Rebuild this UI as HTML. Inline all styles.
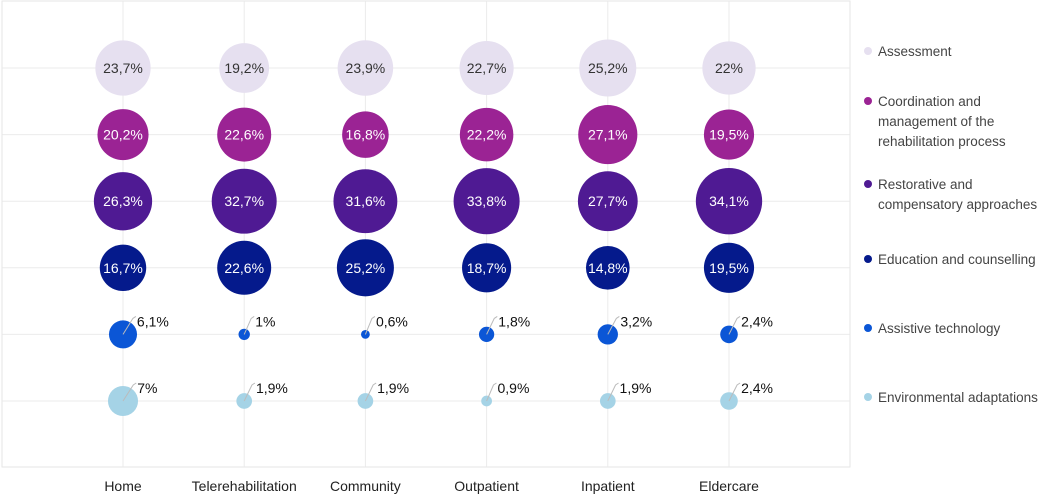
<!DOCTYPE html>
<html><head><meta charset="utf-8"><style>
body{margin:0;background:#fff;font-family:"Liberation Sans",sans-serif}
svg text{font-family:"Liberation Sans",sans-serif}
</style></head><body>
<svg id="c" width="1053" height="495"></svg>
<script>
const categories=["Home","Telerehabilitation","Community","Outpatient","Inpatient","Eldercare"];
const seriesNames=["Assessment","Coordination and management of the rehabilitation process","Restorative and compensatory approaches","Education and counselling","Assistive technology","Environmental adaptations"];
const legendLines=[["Assessment"],["Coordination and","management of the","rehabilitation process"],["Restorative and","compensatory approaches"],["Education and counselling"],["Assistive technology"],["Environmental adaptations"]];
const colors=["#e6e0f0","#9b2394","#4f1a93","#051a8c","#0b56d6","#a5d3e6"];
const assessment=[23.7,19.2,23.9,22.7,25.2,22];
const coordination=[20.2,22.6,16.8,22.2,27.1,19.5];
const restorative=[26.3,32.7,31.6,33.8,27.7,34.1];
const education=[16.7,22.6,25.2,18.7,14.8,19.5];
const assistive=[6.1,1,0.6,1.8,3.2,2.4];
const environmental=[7,1.9,1.9,0.9,1.9,2.4];
const series=[assessment,coordination,restorative,education,assistive,environmental];
const NS="http://www.w3.org/2000/svg";
const svg=document.getElementById('c');
function mk(t,a,p){const e=document.createElementNS(NS,t);for(const k in a)e.setAttribute(k,a[k]);(p||svg).appendChild(e);return e;}
const L=2,T=1,R=850,B=467;
const xS=i=>123+i*121.2;
const yS=j=>68+j*66.6;
const rS=v=>5.68*Math.sqrt(v);
const fmt=v=>String(v).replace('.',',')+'%';
for(let j=0;j<6;j++){const g=mk('line',{x1:L,x2:R,y1:yS(j),y2:yS(j),stroke:'#ebebeb','stroke-width':1});

}
categories.forEach((c,i)=>{const g=mk('line',{x1:xS(i),x2:xS(i),y1:T,y2:B,stroke:'#ebebeb'});


const t=mk('text',{x:xS(i),y:491,'text-anchor':'middle','font-size':14,fill:'#222'});t.textContent=c;

});
const box=mk('rect',{x:L,y:T,width:R-L,height:B-T,fill:'none',stroke:'#e6e6e6'});


series.forEach((s,j)=>{s.forEach((v,i)=>{
 const cx=xS(i),cy=yS(j),r=rS(v);
 const c=mk('circle',{cx:cx,cy:cy,r:r,fill:colors[j]});
 
 
 if(v>=10){const t=mk('text',{x:cx,y:cy+5,'text-anchor':'middle','font-size':14,fill:j==0?'#333':'#fff'});t.textContent=fmt(v);
  
  }
 else{const tx=cx+9+r*0.35, ty=cy-8;
  const l=mk('path',{d:`M${cx},${cy} L${tx-4},${ty-8} L${tx-1},${ty-10}`,stroke:'#bbb',fill:'none','stroke-width':1});
  
  
  const t=mk('text',{x:tx,y:ty,'font-size':14,fill:'#111'});t.textContent=fmt(v);
  
  }
});});
const ly=[55,125,198,263,332,401];
legendLines.forEach((ls,j)=>{const g=mk('g',{});
 
 
 const n=ls.length, y0=ly[j]-(n-1)*10;
 mk('circle',{cx:868,cy:y0-4,r:4,fill:colors[j]},g);
 ls.forEach((s,k)=>{const t=mk('text',{x:878,y:y0+k*20+1,'font-size':13.5,fill:'#444'},g);t.textContent=s;});
});
</script>
</body></html>
